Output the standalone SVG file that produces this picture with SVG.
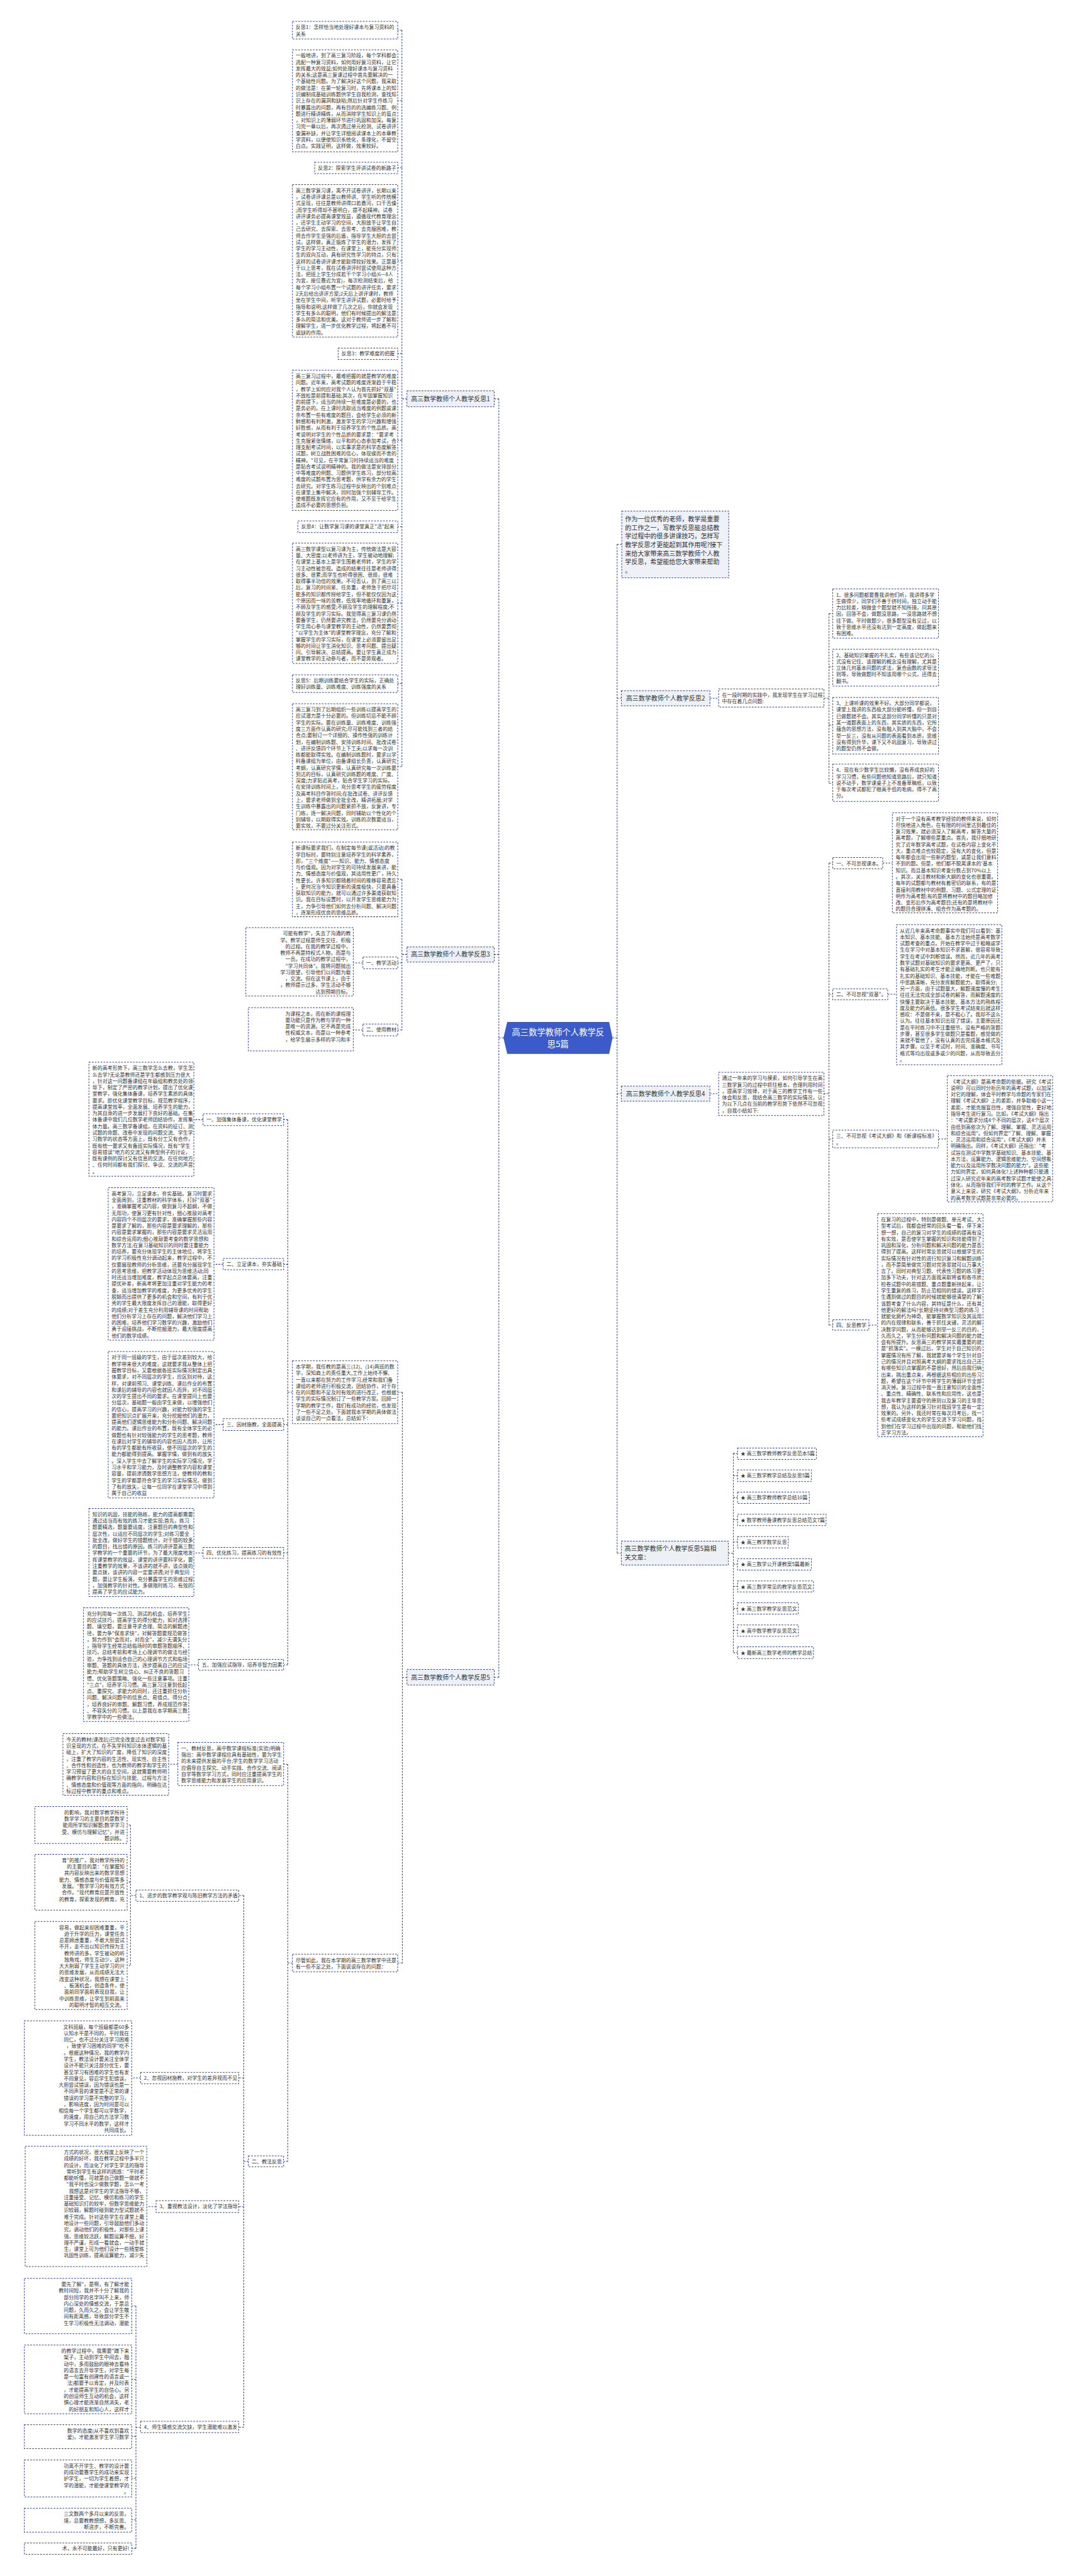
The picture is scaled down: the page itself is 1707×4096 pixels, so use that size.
<svg xmlns="http://www.w3.org/2000/svg" width="1707" height="4096" viewBox="0 0 1707 4096">
<style>
.c{fill:none;stroke:#2d3f8f;stroke-width:1.6;stroke-dasharray:4 3}
.b{fill:#ffffff;stroke:#2d3f8f;stroke-width:1.5;stroke-dasharray:4 3}
.l{fill:#edf1f6;stroke:#2d3f8f;stroke-width:1.5;stroke-dasharray:4 3}
.t{font-family:"Noto Sans CJK SC","Noto Sans",sans-serif;font-size:12px;fill:#333333}
.tr{font-family:"Noto Sans CJK SC","Noto Sans",sans-serif;font-size:12px;fill:#333333;text-anchor:end}
.tl{font-family:"Noto Sans CJK SC","Noto Sans",sans-serif;font-size:15px;fill:#333333}
.tc{font-family:"Noto Sans CJK SC","Noto Sans",sans-serif;font-size:15px;fill:#333333;text-anchor:middle}
.tm{font-family:"Noto Sans CJK SC","Noto Sans",sans-serif;font-size:20px;fill:#ffffff;text-anchor:middle}
</style>
<rect width="1707" height="4096" fill="#ffffff"/>
<g transform="scale(0.6668)">
<g id="connectors">
<path class="c" d="M1200 2475H1189M1189 951V4000M1189 951H1178M1189 2276H1178M1189 4000H1178"/>
<path class="c" d="M970 951H958M958 72V1828M958 72H948M958 240H948M958 400H948M958 622H948M958 843H948M958 1050H948M958 1256H948M958 1438H948M958 1630H948M958 1828H948"/>
<path class="c" d="M970 2276H958M958 2097V2456M958 2097H948M958 2296H948M958 2456H948M865 2296H842M865 2456H842"/>
<path class="c" d="M970 4000H959M959 3320V4681M959 3320H948M959 4681H948"/>
<path class="c" d="M697 3320H686M686 2670V3970M686 2670H676M686 3015H676M686 3397H676M686 3703H676M686 3970H676M484 2670H462M532 3015H510M532 3397H510M484 3703H462M473 3970H450"/>
<path class="c" d="M697 4681H686M686 4207V5154M686 4207H676M686 5154H676M424 4207H402"/>
<path class="c" d="M592 5154H581M581 4520V5788M581 4520H569M581 4955H569M581 5262H569M581 5788H569"/>
<path class="c" d="M324 4520H311M311 4352V4687M311 4352H303M311 4488H303M311 4687H303M335 4955H314M372 5262H350"/>
<path class="c" d="M335 5788H324M324 5499V6077M324 5499H314M324 5674H314M324 5810H314M324 5910H314M324 6009H314M324 6077H314"/>
<path class="c" d="M1460 2475H1471M1471 1298V3704M1471 1298H1482M1471 1665H1481M1471 2608H1481M1471 3704H1481"/>
<path class="c" d="M1692 1665H1713M1964 1665H1976M1976 1463V1868M1976 1463H1985M1976 1590H1985M1976 1729H1985M1976 1868H1985"/>
<path class="c" d="M1692 2608H1713M1964 2608H1976M1976 2058V3160M1976 2058H1985M1976 2371H1985M1976 2716H1985M1976 3160H1985M2104 2058H2127M2116 2371H2137M2237 2716H2258M2071 3160H2092"/>
<path class="c" d="M1736 3704H1748M1748 3466V3941M1748 3466H1758M1748 3519H1758M1748 3571H1758M1748 3624H1758M1748 3677H1758M1748 3730H1758M1748 3783H1758M1748 3836H1758M1748 3888H1758M1748 3941H1758"/>
</g>

<g id="center">
<polygon points="1200,2475 1209,2437 1452,2437 1460,2475 1452,2513 1209,2513" fill="#3b5bcb"/>
<text class="tm" x="1330" y="2469">高三数学教师个人教学反</text>
<text class="tm" x="1330" y="2497">思5篇</text>
</g>

<g id="intro">
<rect x="1482" y="1219" width="255" height="159" fill="#eef1f5" stroke="#2d3f8f" stroke-width="1.5" stroke-dasharray="4 3"/>
<text class="tl" x="1490" y="1243"><tspan x="1490" dy="0">作为一位优秀的老师，教学是重要</tspan><tspan x="1490" dy="20.5">的工作之一，写教学反思能总结教</tspan><tspan x="1490" dy="20.5">学过程中的很多讲课技巧，怎样写</tspan><tspan x="1490" dy="20.5">教学反思才更能起到其作用呢?接下</tspan><tspan x="1490" dy="20.5">来给大家带来高三数学教师个人教</tspan><tspan x="1490" dy="20.5">学反思，希望能给您大家带来帮助</tspan><tspan x="1490" dy="20.5">。</tspan></text>
</g>

<!-- LEFT BRANCH 1 -->
<g id="label-1"><rect class="l" x="970" y="932" width="208" height="38"/><text class="tc" x="1074" y="956.5">高三数学教师个人教学反思1</text></g>
<g id="r1-title1"><rect class="b" x="697" y="51" width="251" height="42"/><text class="t" x="705" y="69.5"><tspan x="705" dy="0">反思1：怎样恰当地处理好课本与复习资料的</tspan><tspan x="705" dy="15.4">关系</tspan></text></g>
<g id="r1-block1"><rect class="b" x="697" y="119" width="251" height="243"/><text class="t" x="705" y="137"><tspan x="705" dy="0">一般地讲，到了高三复习阶段，每个学科都会</tspan><tspan x="705" dy="15.4">选配一种复习资料，如何用好复习资料，让它</tspan><tspan x="705" dy="15.4">发挥最大的效益;如何处理好课本与复习资料</tspan><tspan x="705" dy="15.4">的关系;这是高三复课过程中首先要解决的一</tspan><tspan x="705" dy="15.4">个基础性问题。为了解决好这个问题，我采取</tspan><tspan x="705" dy="15.4">的做法是：在第一轮复习时，先将课本上的知</tspan><tspan x="705" dy="15.4">识编制成基础训练题供学生自我检测，查找知</tspan><tspan x="705" dy="15.4">识上存在的漏洞和缺陷;然后针对学生作练习</tspan><tspan x="705" dy="15.4">时暴露出的问题，再有目的的选编练习题、例</tspan><tspan x="705" dy="15.4">题进行精讲精练，从而消除学生知识上的盲点</tspan><tspan x="705" dy="15.4">，对知识上的薄弱环节进行巩固和加深。每复</tspan><tspan x="705" dy="15.4">习完一章以后，再次透过单元检测、试卷讲评</tspan><tspan x="705" dy="15.4">查漏补缺，并让学生详细阅读课本上的本章教</tspan><tspan x="705" dy="15.4">学资料，以便使知识系统化，条理化，不留空</tspan><tspan x="705" dy="15.4">白点。实践证明，这样做，效果较好。</tspan></text></g>
<g id="r1-title2"><rect class="b" x="750" y="387" width="198" height="27"/><text class="t" x="758" y="405">反思2：探索学生评讲试卷的新路子</text></g>
<g id="r1-block2"><rect class="b" x="697" y="440" width="251" height="364"/><text class="t" x="705" y="458.5"><tspan x="705" dy="0">高三数学复习课，离不开试卷讲评，长期以来</tspan><tspan x="705" dy="15.4">，试卷讲评课总是以教师讲、学生听的传统模</tspan><tspan x="705" dy="15.4">式呈现，往往是教师讲得口若悬河，口干舌燥</tspan><tspan x="705" dy="15.4">;而学生听得却不甚明白，提不起精神。试卷</tspan><tspan x="705" dy="15.4">讲评课务必提高课堂效益，遵循现代教育理念</tspan><tspan x="705" dy="15.4">，还学生主动学习的空间，大胆放手让学生自</tspan><tspan x="705" dy="15.4">己去研究、去探索、去思考、去克服困难，教</tspan><tspan x="705" dy="15.4">师去作学生坚强的后盾，指导学生大胆的去尝</tspan><tspan x="705" dy="15.4">试，这样做，真正锻炼了学生的潜力，发挥了</tspan><tspan x="705" dy="15.4">学生的学习主动性，在课堂上，能充分实现师</tspan><tspan x="705" dy="15.4">生的双向互动，具有研究性学习的特点，只有</tspan><tspan x="705" dy="15.4">这样的试卷讲评课才能取得较好效果。正是基</tspan><tspan x="705" dy="15.4">于以上思考，我在试卷讲评时尝试使用这种方</tspan><tspan x="705" dy="15.4">法，把班上学生分成若干个学习小组(6—8人</tspan><tspan x="705" dy="15.4">为宜，座位靠近为宜)，每次检测结束后，给</tspan><tspan x="705" dy="15.4">每个学习小组布置一个试题的讲评任务，要求</tspan><tspan x="705" dy="15.4">2天后给出讲评方案;2天后上讲评课时，教师</tspan><tspan x="705" dy="15.4">坐在学生中间，听学生讲评试题，必要时给予</tspan><tspan x="705" dy="15.4">指导和说明;这样做了几次之后，你就会发现</tspan><tspan x="705" dy="15.4">学生有多么的聪明，他们有时候提出的解法是</tspan><tspan x="705" dy="15.4">多么的简洁和优美。这对于教师进一步了解和</tspan><tspan x="705" dy="15.4">理解学生，进一步优化教学过程，将起着不可</tspan><tspan x="705" dy="15.4">或缺的作用。</tspan></text></g>
<g id="r1-title3"><rect class="b" x="806" y="830" width="142" height="27"/><text class="t" x="814" y="848">反思3：教学难度的把握</text></g>
<g id="r1-block3"><rect class="b" x="697" y="883" width="251" height="334"/><text class="t" x="705" y="901.5"><tspan x="705" dy="0">高三复习过程中，最难把握的就是教学的难度</tspan><tspan x="705" dy="15.4">问题。近年来，高考试题的难度逐渐趋于平稳</tspan><tspan x="705" dy="15.4">，教学上如何应对我个人认为首先抓好"双基"</tspan><tspan x="705" dy="15.4">不放松是前提和基础;其次，在牢固掌握知识</tspan><tspan x="705" dy="15.4">的前提下，适当的持续一些难度是必要的，也</tspan><tspan x="705" dy="15.4">是务必的。在上课时选取适当难度的例题或课</tspan><tspan x="705" dy="15.4">余布置一些有难度的题目，会给学生必须的新</tspan><tspan x="705" dy="15.4">鲜感和有利刺激，激发学生的学习兴趣和增强</tspan><tspan x="705" dy="15.4">好胜感，从而有利于培养学生的个性品质。高</tspan><tspan x="705" dy="15.4">考说明对学生的个性品质的要求是："要求考</tspan><tspan x="705" dy="15.4">生克服紧张情绪，以平和的心态参加考试，合</tspan><tspan x="705" dy="15.4">理支配考试时间，以实事求是的科学态度解答</tspan><tspan x="705" dy="15.4">试题，树立战胜困难的信心，体现锲而不舍的</tspan><tspan x="705" dy="15.4">精神。"可见，在平常复习时持续适当的难度</tspan><tspan x="705" dy="15.4">是贴合考试说明精神的。我的做法是安排部分</tspan><tspan x="705" dy="15.4">中等难度的例题、习题供学生练习，部分较高</tspan><tspan x="705" dy="15.4">难度的试题布置为思考题，供学有余力的学生</tspan><tspan x="705" dy="15.4">去研究。对学生练习过程中反映出的个别难点</tspan><tspan x="705" dy="15.4">在课堂上集中解决，同时加强个别辅导工作。</tspan><tspan x="705" dy="15.4">使难题既发挥它应有的作用，又不至于给学生</tspan><tspan x="705" dy="15.4">造成不必要的思想负担。</tspan></text></g>
<g id="r1-title4"><rect class="b" x="710" y="1242" width="238" height="28"/><text class="t" x="718" y="1260">反思4：让数学复习课的课堂真正"活"起来</text></g>
<g id="r1-block4"><rect class="b" x="697" y="1295" width="251" height="287"/><text class="t" x="705" y="1313.5"><tspan x="705" dy="0">高三数学课型以复习课为主，传统做法是大容</tspan><tspan x="705" dy="15.4">量、大密度;以老师讲为主，学生被动地理解;</tspan><tspan x="705" dy="15.4">在课堂上基本上是学生围着老师转，学生的学</tspan><tspan x="705" dy="15.4">习主动性被忽视。造成的结果往往是老师讲得</tspan><tspan x="705" dy="15.4">很多、很累;而学生也听得很困、很烦，很难</tspan><tspan x="705" dy="15.4">取得事半功倍的效果。不可否认，到了高三以</tspan><tspan x="705" dy="15.4">后，复习的时间紧、任务重，老师急于把尽可</tspan><tspan x="705" dy="15.4">能多的知识都传授给学生，但不能仅仅因为这</tspan><tspan x="705" dy="15.4">个原因而一味的苦教，低效率地循环和重复，</tspan><tspan x="705" dy="15.4">不顾及学生的感受;不顾及学生的理解程度;不</tspan><tspan x="705" dy="15.4">顾及学生的学习实际。我觉得高三复习课仍然</tspan><tspan x="705" dy="15.4">要备学生，仍然要讲究教法，仍然要充分调动</tspan><tspan x="705" dy="15.4">学生用心参与课堂教学的主动性，仍然要贯彻</tspan><tspan x="705" dy="15.4">"以学生为主体"的课堂教学理念，充分了解和</tspan><tspan x="705" dy="15.4">掌握学生的学习实际，在课堂上必须要留出足</tspan><tspan x="705" dy="15.4">够的时间让学生消化知识、思考问题、提出疑</tspan><tspan x="705" dy="15.4">问、引导解决、总结提高。要让学生真正成为</tspan><tspan x="705" dy="15.4">课堂教学的主动参与者，而不是旁观者。</tspan></text></g>
<g id="r1-title5"><rect class="b" x="697" y="1609" width="251" height="42"/><text class="t" x="705" y="1627.5"><tspan x="705" dy="0">反思5：后期训练要结合学生的实际，正确处</tspan><tspan x="705" dy="15.4">理好训练量、训练难度、训练强度的关系</tspan></text></g>
<g id="r1-block5"><rect class="b" x="697" y="1678" width="251" height="301"/><text class="t" x="705" y="1696.5"><tspan x="705" dy="0">高三复习到了后期组织一些训练以提高学生的</tspan><tspan x="705" dy="15.4">应试潜力是十分必要的。但训练切忌不能不顾</tspan><tspan x="705" dy="15.4">学生的实际。要在训练量、训练难度、训练强</tspan><tspan x="705" dy="15.4">度三方面作认真的研究;尽可能找到三者的结</tspan><tspan x="705" dy="15.4">合点;要制订一个详细的、操作性强的训练计</tspan><tspan x="705" dy="15.4">划，在编制训练题、安排训练时间、批改试卷</tspan><tspan x="705" dy="15.4">、讲评反馈四个环节上下工夫;以求每一次训</tspan><tspan x="705" dy="15.4">练都能取得实效。在编制训练题时，要求以学</tspan><tspan x="705" dy="15.4">科备课组为单位，由备课组长负责，认真研究</tspan><tspan x="705" dy="15.4">考纲，认真研究学情，认真研究每一次训练要</tspan><tspan x="705" dy="15.4">到达的目标，认真研究训练题的难度、广度、</tspan><tspan x="705" dy="15.4">深度;力求贴近高考，贴合学生学习的实际。</tspan><tspan x="705" dy="15.4">在安排训练时间上，充分思考学生的疲劳程度</tspan><tspan x="705" dy="15.4">及高考科目作答时间;在批改试卷、讲评反馈</tspan><tspan x="705" dy="15.4">上，要求老师做到全批全改，精讲拓展;对学</tspan><tspan x="705" dy="15.4">生训练中暴露出的问题紧抓不放，反复讲，专</tspan><tspan x="705" dy="15.4">门练，逐一解决问题，同时辅助以个性化的个</tspan><tspan x="705" dy="15.4">别辅导，以期取得实效。训练的次数要适当，</tspan><tspan x="705" dy="15.4">要实效，不要过分关注形式。</tspan></text></g>

<!-- LEFT BRANCH 3 -->
<g id="label-3"><rect class="l" x="970" y="2258" width="208" height="36"/><text class="tc" x="1074" y="2281.5">高三数学教师个人教学反思3</text></g>
<g id="r3-block0"><rect class="b" x="697" y="2008" width="251" height="178"/><text class="t" x="705" y="2026.5"><tspan x="705" dy="0">新课标要求我们，在制定每节课(或活动)的教</tspan><tspan x="705" dy="15.4">学目标时，要特别注意培养学生的科学素养，</tspan><tspan x="705" dy="15.4">即，"三个维度"——知识、能力、情感态度</tspan><tspan x="705" dy="15.4">与价值观。因为对学生的可持续发展来讲，能</tspan><tspan x="705" dy="15.4">力、情感态度与价值观，其适用性更广，持久</tspan><tspan x="705" dy="15.4">性更长。许多知识都随着时间的推移容易遗忘</tspan><tspan x="705" dy="15.4">，更何况当今知识更新的速度极快，只要具备</tspan><tspan x="705" dy="15.4">获取知识的能力，就可以通过许多渠道获取知</tspan><tspan x="705" dy="15.4">识。我在目标设置时，以开发学生思维能力为</tspan><tspan x="705" dy="15.4">主，力争引导他们如何去分析问题、解决问题</tspan><tspan x="705" dy="15.4">，逐渐形成优良的思维品质。</tspan></text></g>
<g id="r3-h1"><rect class="b" x="865" y="2282" width="83" height="28"/><text class="t" x="873" y="2300">一、教学活动</text></g>
<g id="r3-b1"><rect class="b" x="586" y="2212" width="256" height="163"/><text class="tr" x="836" y="2230.5"><tspan x="836" dy="0">可能有教学"，失去了沟通的教</tspan><tspan x="836" dy="15.4">学。教学过程是师生交往、积极</tspan><tspan x="836" dy="15.4">的过程。在我的教学过程中，</tspan><tspan x="836" dy="15.4">教师不再是特权式人物，而是与</tspan><tspan x="836" dy="15.4">一员。在成功的教学过程中，</tspan><tspan x="836" dy="15.4">"学习共同体"。我将问题抛出</tspan><tspan x="836" dy="15.4">学习欲望，引导他们以问题为载</tspan><tspan x="836" dy="15.4">，交流。但在这节课上，由于</tspan><tspan x="836" dy="15.4">，教师提示过多，学生活动不够</tspan><tspan x="836" dy="15.4">达到预期目标。</tspan></text></g>
<g id="r3-h2"><rect class="b" x="865" y="2442" width="83" height="28"/><text class="t" x="873" y="2460">二、使用教材</text></g>
<g id="r3-b2"><rect class="b" x="592" y="2403" width="250" height="103"/><text class="tr" x="836" y="2421.5"><tspan x="836" dy="0">为课程之本，而在新的课程理</tspan><tspan x="836" dy="15.4">要功能只是作为教与学的一种</tspan><tspan x="836" dy="15.4">是唯一的资源。它不再是完成</tspan><tspan x="836" dy="15.4">性权威文本，而是以一种参考</tspan><tspan x="836" dy="15.4">，给学生展示多样的学习和丰</tspan></text></g>

<!-- LEFT BRANCH 5 -->
<g id="label-5"><rect class="l" x="970" y="3981" width="208" height="37"/><text class="tc" x="1074" y="4005">高三数学教师个人教学反思5</text></g>
<g id="r5-intro"><rect class="b" x="697" y="3245" width="251" height="150"/><text class="t" x="705" y="3263.5"><tspan x="705" dy="0">本学期，我任教的是高三(12)、(14)两班的数</tspan><tspan x="705" dy="15.4">学，深知肩上的责任重大,工作上始终不懈,</tspan><tspan x="705" dy="15.4">一直以来都在努力的工作学习,经常和我们备</tspan><tspan x="705" dy="15.4">课组的老师进行积极交流，团结协作，对于存</tspan><tspan x="705" dy="15.4">在的问题和不足及时有效的进行改正，也根据</tspan><tspan x="705" dy="15.4">学生的实际情况制订了一些教学方案。回顾一</tspan><tspan x="705" dy="15.4">学期的教学工作，我们有成功的经验，也发现</tspan><tspan x="705" dy="15.4">了一些不足之处。下面就我本学期的具体做法</tspan><tspan x="705" dy="15.4">谈谈自己的一点看法，总结如下：</tspan></text></g>
<g id="r5-h1"><rect class="b" x="484" y="2656" width="192" height="28"/><text class="t" x="492" y="2674">一、加强集体备课，优化课堂教学</text></g>
<g id="r5-b1"><rect class="b" x="212" y="2533" width="250" height="272"/><text class="t" x="220" y="2551.5"><tspan x="220" dy="0">新的高考形势下，高三数学怎么去教，学生怎</tspan><tspan x="220" dy="15.4">么去学?无论是教师还是学生都感到压力很大</tspan><tspan x="220" dy="15.4">，针对这一问题备课组在年级组和教务处的领</tspan><tspan x="220" dy="15.4">导下，制定了严密的教学计划，提出了优化课</tspan><tspan x="220" dy="15.4">堂教学，强化集体备课，培养学生素质的具体</tspan><tspan x="220" dy="15.4">要求。即优化课堂教学目标，规范教学程序，</tspan><tspan x="220" dy="15.4">提高课堂效率，全面发展、培养学生的能力，</tspan><tspan x="220" dy="15.4">为其自身的进一步发展打下良好的基础。在集</tspan><tspan x="220" dy="15.4">体备课中我们几位数学老师团结协作，发挥集</tspan><tspan x="220" dy="15.4">体力量。高三数学备课组，在资料的征订、测</tspan><tspan x="220" dy="15.4">试题的命题、改卷中发现的问题交流、学生学</tspan><tspan x="220" dy="15.4">习数学的状态等方面上，既有分工又有合作，</tspan><tspan x="220" dy="15.4">既有统一要求又有备班实际情况，既有"学生</tspan><tspan x="220" dy="15.4">容易错误"地方的交流又有典型例子的讨论，</tspan><tspan x="220" dy="15.4">既有课例的探讨又有信息的交流。在任何地方</tspan><tspan x="220" dy="15.4">、任何时间都有我们探讨、争议、交流的声音</tspan><tspan x="220" dy="15.4">。</tspan></text></g>
<g id="r5-h2"><rect class="b" x="532" y="3001" width="144" height="27"/><text class="t" x="540" y="3019">二、立足课本，夯实基础</text></g>
<g id="r5-b2"><rect class="b" x="258" y="2832" width="252" height="364"/><text class="t" x="266" y="2850.5"><tspan x="266" dy="0">高考复习，立足课本，夯实基础。复习时要求</tspan><tspan x="266" dy="15.4">全面周到，注重教材的科学体系，打好"双基"</tspan><tspan x="266" dy="15.4">，准确掌握考试内容，做到复习不超纲，不做</tspan><tspan x="266" dy="15.4">无用功，使复习更有针对性，细心推敲对高考</tspan><tspan x="266" dy="15.4">内容四个不同层次的要求，准确掌握那些内容</tspan><tspan x="266" dy="15.4">是要求了解的，那些内容是要求理解的，那些</tspan><tspan x="266" dy="15.4">内容是要求掌握的，那些内容是要求灵活运用</tspan><tspan x="266" dy="15.4">和综合运用的;细心推敲要考查的数学思想和</tspan><tspan x="266" dy="15.4">数学方法;在复习基础知识的同时要注重能力</tspan><tspan x="266" dy="15.4">的培养，要充分体现学生的主体地位，将学生</tspan><tspan x="266" dy="15.4">的学习积极性充分调动起来，教学过程中，不</tspan><tspan x="266" dy="15.4">仅要展现教师的分析思维，还要充分展现学生</tspan><tspan x="266" dy="15.4">的思考思维，把教学活动体现为思维活动;同</tspan><tspan x="266" dy="15.4">时还适当增加难度，教学起点总体要高，注重</tspan><tspan x="266" dy="15.4">提优补差，新高考将更加注重对学生能力的考</tspan><tspan x="266" dy="15.4">查，适当增加教学的难度，为更多优秀的学生</tspan><tspan x="266" dy="15.4">脱颖而出提供了更多的机会和空间，有利于优</tspan><tspan x="266" dy="15.4">秀的学生最大限度发挥自己的潜能，取得更好</tspan><tspan x="266" dy="15.4">的成绩;对于差生充分利用辅导课的时间帮助</tspan><tspan x="266" dy="15.4">他们分析学习上存在的问题，解决他们学习上</tspan><tspan x="266" dy="15.4">的困难，培养他们学习数学的兴趣，激励他们</tspan><tspan x="266" dy="15.4">勇于迎接挑战，不断挖掘潜力，最大限度提高</tspan><tspan x="266" dy="15.4">他们的数学成绩。</tspan></text></g>
<g id="r5-h3"><rect class="b" x="532" y="3383" width="144" height="28"/><text class="t" x="540" y="3401">三、因材施教，全面提高</text></g>
<g id="r5-b3"><rect class="b" x="258" y="3223" width="252" height="349"/><text class="t" x="266" y="3241.5"><tspan x="266" dy="0">对于同一班级的学生，由于层次差别较大，给</tspan><tspan x="266" dy="15.4">教学带来很大的难度，这就要求我从整体上把</tspan><tspan x="266" dy="15.4">握教学目标，又要根据各班实际情况制定出具</tspan><tspan x="266" dy="15.4">体要求，对不同层次的学生，应区别对待，这</tspan><tspan x="266" dy="15.4">样，对课前预习、课堂训练、课后作业的布置</tspan><tspan x="266" dy="15.4">和课后的辅导的内容也就因人而异，对不同层</tspan><tspan x="266" dy="15.4">次的学生提出不同的要求。在课堂提问上也要</tspan><tspan x="266" dy="15.4">分层次，基础题一般由学生来做，以增强他们</tspan><tspan x="266" dy="15.4">的信心，提高学习的兴趣，对能力较强的学生</tspan><tspan x="266" dy="15.4">要把知识点扩展开来，充分挖掘他们的潜力，</tspan><tspan x="266" dy="15.4">提高他们逻辑思维能力和分析问题、解决问题</tspan><tspan x="266" dy="15.4">的能力。课后作业的布置，既有全体学生的必</tspan><tspan x="266" dy="15.4">做题也有针对较强能力的学生的思考题，教师</tspan><tspan x="266" dy="15.4">在课后对学生的辅导的内容也因人而异，让所</tspan><tspan x="266" dy="15.4">有的学生都能有所收获，使不同层次的学生的</tspan><tspan x="266" dy="15.4">能力都能得到提高。掌握学情，做到有的放矢</tspan><tspan x="266" dy="15.4">。深入学生中去了解学生的实际学习情况，学</tspan><tspan x="266" dy="15.4">习水平和学习能力，及时调整教学内容和课堂</tspan><tspan x="266" dy="15.4">容量，提前渗透数学思想方法，使教师的教和</tspan><tspan x="266" dy="15.4">学生的学都是符合学生的学习实际情况，做到</tspan><tspan x="266" dy="15.4">了有的放矢，让每一位同学在课堂学习中得到</tspan><tspan x="266" dy="15.4">属于自己的收益</tspan></text></g>
<g id="r5-h4"><rect class="b" x="484" y="3690" width="192" height="26"/><text class="t" x="492" y="3707.5">四、优化练习，提高练习的有效性</text></g>
<g id="r5-b4"><rect class="b" x="212" y="3597" width="250" height="210"/><text class="t" x="220" y="3615.5"><tspan x="220" dy="0">知识的巩固，技能的熟练，能力的提高都需要</tspan><tspan x="220" dy="15.4">通过适当而有效的练习才能实现;首先，练习</tspan><tspan x="220" dy="15.4">题要精选，题量要适度，注意题目的典型性和</tspan><tspan x="220" dy="15.4">层次性，以适应不同层次的学生;对练习要全</tspan><tspan x="220" dy="15.4">批全改，做好学生的错题统计，对于错的较多</tspan><tspan x="220" dy="15.4">的题目，找出错的原因。练习的讲评是高三数</tspan><tspan x="220" dy="15.4">学教学的一个重要的环节，为了最大限度地发</tspan><tspan x="220" dy="15.4">挥课堂教学的效益，课堂的讲评要科学化，要</tspan><tspan x="220" dy="15.4">注重教学的效果，不该讲的就不讲，该点拨的</tspan><tspan x="220" dy="15.4">要点拨，该讲的内容一定要讲透;对于典型问</tspan><tspan x="220" dy="15.4">题，要让学生板演，充分暴露学生的思维过程</tspan><tspan x="220" dy="15.4">，加强教学的针对性。多做限时练习，有效的</tspan><tspan x="220" dy="15.4">提高了学生的应试能力。</tspan></text></g>
<g id="r5-h5"><rect class="b" x="473" y="3957" width="203" height="26"/><text class="t" x="481" y="3974.5">五、加强应试指导，培养非智力因素</text></g>
<g id="r5-b5"><rect class="b" x="199" y="3834" width="251" height="271"/><text class="t" x="207" y="3852.5"><tspan x="207" dy="0">充分利用每一次练习、测试的机会，培养学生</tspan><tspan x="207" dy="15.4">的应试技巧，提高学生的得分能力，如对选择</tspan><tspan x="207" dy="15.4">题、填空题，要注意寻求合理、简洁的解题途</tspan><tspan x="207" dy="15.4">径，要力争"保准求快"，对解答题要规范做答</tspan><tspan x="207" dy="15.4">，努力作到"会而对，对而全"，减少无谓失分</tspan><tspan x="207" dy="15.4">，指导学生经常总结临场时的审题答题顺序、</tspan><tspan x="207" dy="15.4">技巧，总结考前和考场上心理调节的做法与经</tspan><tspan x="207" dy="15.4">验，力争找到适合自己的心理调节方式和临场</tspan><tspan x="207" dy="15.4">审题、答题的具体方法，逐步提高自己的应试</tspan><tspan x="207" dy="15.4">能力;帮助学生树立信心、纠正不良的答题习</tspan><tspan x="207" dy="15.4">惯、优化答题策略、强化一些注意事项。注重</tspan><tspan x="207" dy="15.4">"三点"，培养学习习惯。高三复习注意到低起</tspan><tspan x="207" dy="15.4">点、重探究、求能力的同时，还注重抓住分析</tspan><tspan x="207" dy="15.4">问题、解决问题中的信息点、易错点、得分点</tspan><tspan x="207" dy="15.4">，培养良好的审题、解题习惯，养成规范作答</tspan><tspan x="207" dy="15.4">、不容失分的习惯。以上是我在本学期高三数</tspan><tspan x="207" dy="15.4">学教学中的一些做法。</tspan></text></g>
<g id="r5-problems"><rect class="b" x="697" y="4660" width="251" height="42"/><text class="t" x="705" y="4678.5"><tspan x="705" dy="0">尽管如此，我在本学期的高三数学教学中还是</tspan><tspan x="705" dy="15.4">有一些不足之处，下面说说存在的问题：</tspan></text></g>
<g id="r5-p1"><rect class="b" x="424" y="4155" width="252" height="103"/><text class="t" x="432" y="4173.5"><tspan x="432" dy="0">一、教材反思，高中数学课程标准(实验)明确</tspan><tspan x="432" dy="15.4">指出：高中数学课程应具有基础性，要为学生</tspan><tspan x="432" dy="15.4">的未来提供发展的平台;学生的数学学习活动</tspan><tspan x="432" dy="15.4">应倡导自主探究、动手实践、合作交流、阅读</tspan><tspan x="432" dy="15.4">自学等数学学习方式，同时应注重提高学生的</tspan><tspan x="432" dy="15.4">数学思维能力和发展学生的应用意识。</tspan></text></g>
<g id="r5-p1b"><rect class="b" x="150" y="4134" width="252" height="147"/><text class="t" x="158" y="4152.5"><tspan x="158" dy="0">今天的教材(课改后)已完全改变过去对数学知</tspan><tspan x="158" dy="15.4">识呈现的方式，在不失学科知识本体逻辑的基</tspan><tspan x="158" dy="15.4">础上，扩大了知识的广度，降低了知识的深度</tspan><tspan x="158" dy="15.4">，注重了教学内容的生活性、现实性、自主性</tspan><tspan x="158" dy="15.4">、合作性和创造性，也为教师的教学和学生的</tspan><tspan x="158" dy="15.4">学习预留了更大的自主空间，这就需要教师明</tspan><tspan x="158" dy="15.4">确教学内容和目标在知识与技能、过程与方法</tspan><tspan x="158" dy="15.4">、情感态度和价值观等方面的指向，明确在达</tspan><tspan x="158" dy="15.4">标过程中教学的重点和难点。</tspan></text></g>
<g id="r5-p2"><rect class="b" x="592" y="5141" width="84" height="26"/><text class="t" x="600" y="5158.5">二、教法反思</text></g>
<g id="r5-i1"><rect class="b" x="324" y="4507" width="245" height="27"/><text class="t" x="332" y="4525">1、进步的数学教学观与陈旧教学方法的矛盾</text></g>
<g id="r5-i1a"><rect class="b" x="83" y="4308" width="220" height="88"/><text class="tr" x="297" y="4326.5"><tspan x="297" dy="0">的影响，我对数学教学所持</tspan><tspan x="297" dy="15.4">数学学习的主要目的是数学</tspan><tspan x="297" dy="15.4">能用所学知识解题;数学学习</tspan><tspan x="297" dy="15.4">受、模仿与理解记忆"，并进</tspan><tspan x="297" dy="15.4">题训练。</tspan></text></g>
<g id="r5-i1b"><rect class="b" x="83" y="4422" width="220" height="133"/><text class="tr" x="297" y="4440.5"><tspan x="297" dy="0">育"的推广，我对教学所持的</tspan><tspan x="297" dy="15.4">的主要目的是："在掌握知</tspan><tspan x="297" dy="15.4">其内容反映出来的数学思想</tspan><tspan x="297" dy="15.4">能力、情感态度与价值观等多</tspan><tspan x="297" dy="15.4">发展。"数学学习的有效方式</tspan><tspan x="297" dy="15.4">合作。"现代教育应是开放性</tspan><tspan x="297" dy="15.4">的教育，探索发现的教育，充</tspan></text></g>
<g id="r5-i1c"><rect class="b" x="83" y="4582" width="220" height="210"/><text class="tr" x="297" y="4600.5"><tspan x="297" dy="0">容易，做起来却困难重重，平</tspan><tspan x="297" dy="15.4">迫于升学的压力，课堂任务</tspan><tspan x="297" dy="15.4">总是顾虑重重，不敢大胆尝试</tspan><tspan x="297" dy="15.4">不开，走不出以知识传授为主</tspan><tspan x="297" dy="15.4">教师讲的多，学生被动的听</tspan><tspan x="297" dy="15.4">独角戏，师生互动少，这种</tspan><tspan x="297" dy="15.4">大大削弱了学生主动学习的兴</tspan><tspan x="297" dy="15.4">的思维发展，从而成绩无法大</tspan><tspan x="297" dy="15.4">改变这种状况，我想在课堂上</tspan><tspan x="297" dy="15.4">、板演机会，创造条件，使</tspan><tspan x="297" dy="15.4">面前同学面前表现自我，让</tspan><tspan x="297" dy="15.4">中训练思维，让学生到前面来</tspan><tspan x="297" dy="15.4">的聪明才智的相互交流。</tspan></text></g>
<g id="r5-i2"><rect class="b" x="335" y="4942" width="234" height="27"/><text class="t" x="343" y="4960">2、忽视因材施教，对学生的差异视而不见</text></g>
<g id="r5-i2a"><rect class="b" x="58" y="4819" width="256" height="273"/><text class="tr" x="308" y="4837.5"><tspan x="308" dy="0">文科班级，每个班级都是60多</tspan><tspan x="308" dy="15.4">认知水平是不同的，平时我在</tspan><tspan x="308" dy="15.4">同仁，也不过分关注学习困难</tspan><tspan x="308" dy="15.4">，致使学习困难的同学"吃不</tspan><tspan x="308" dy="15.4">。根据这种情况，我的教学内</tspan><tspan x="308" dy="15.4">学生，教法设计要关注全体学</tspan><tspan x="308" dy="15.4">设计不能只关注部分优生，要</tspan><tspan x="308" dy="15.4">甚至学习有困难的学生也有发</tspan><tspan x="308" dy="15.4">不同意见，容忍学生犯错误，</tspan><tspan x="308" dy="15.4">大胆尝试错误，因为错误也是一</tspan><tspan x="308" dy="15.4">不同声音的课堂是不正常的课</tspan><tspan x="308" dy="15.4">错误的学习是不完整的学习，</tspan><tspan x="308" dy="15.4">，影响进度，因为时间是可以</tspan><tspan x="308" dy="15.4">相信每一个学生都可以学数学，</tspan><tspan x="308" dy="15.4">的速度，用自己的方法学习数</tspan><tspan x="308" dy="15.4">学习不同水平的数学，这样才</tspan><tspan x="308" dy="15.4">共同成长。</tspan></text></g>
<g id="r5-i3"><rect class="b" x="372" y="5248" width="197" height="28"/><text class="t" x="380" y="5266">3、重视教法设计，淡化了学法指导</text></g>
<g id="r5-i3a"><rect class="b" x="60" y="5118" width="290" height="287"/><text class="tr" x="344" y="5136.5"><tspan x="344" dy="0">方式的状况，很大程度上反映了一个</tspan><tspan x="344" dy="15.4">成绩的好坏，我在教学过程中多半只</tspan><tspan x="344" dy="15.4">的设计，而淡化了对学生学法的指导</tspan><tspan x="344" dy="15.4">常听到学生有这样的困惑："平时老</tspan><tspan x="344" dy="15.4">都能听懂，可就是自己做题一做就不</tspan><tspan x="344" dy="15.4">"我平时也没少做数学题，怎么一考</tspan><tspan x="344" dy="15.4">我想这是对学生的学法指导不够，</tspan><tspan x="344" dy="15.4">注重接受、记忆、模仿和练习的学生</tspan><tspan x="344" dy="15.4">基础知识打的较牢，但数学思维能力</tspan><tspan x="344" dy="15.4">识较弱，解题时碰到能力型试题就不</tspan><tspan x="344" dy="15.4">难于完成。针对这些学生在课堂上最</tspan><tspan x="344" dy="15.4">地设计一些问题，引导鼓励他们多动</tspan><tspan x="344" dy="15.4">究，调动他们的积极性。对那些上课</tspan><tspan x="344" dy="15.4">强，思维较活跃，解题运算不细，好</tspan><tspan x="344" dy="15.4">理不严谨，形成一看就会，一动手就</tspan><tspan x="344" dy="15.4">生，课堂上可为他们设计一些随堂练</tspan><tspan x="344" dy="15.4">巩固性训练，提高运算能力，减少失</tspan></text></g>
<g id="r5-i4"><rect class="b" x="335" y="5774" width="234" height="27"/><text class="t" x="343" y="5792">4、师生情感交流欠缺，学生潜能难以激发</text></g>
<g id="r5-i4a"><rect class="b" x="58" y="5433" width="256" height="132"/><text class="tr" x="308" y="5451.5"><tspan x="308" dy="0">要先了解"，是啊，有了解才能</tspan><tspan x="308" dy="15.4">教时间短，我并不十分了解我的</tspan><tspan x="308" dy="15.4">部分同学的名字叫不上来，师</tspan><tspan x="308" dy="15.4">内心深处的情感交流，于是总</tspan><tspan x="308" dy="15.4">问题，久而久之，会让学生敬</tspan><tspan x="308" dy="15.4">间有距离感，导致部分学生不</tspan><tspan x="308" dy="15.4">生学习积极性无法调动，潜能</tspan></text></g>
<g id="r5-i4b"><rect class="b" x="58" y="5592" width="256" height="164"/><text class="tr" x="308" y="5610.5"><tspan x="308" dy="0">的教学过程中，我需要"蹲下来</tspan><tspan x="308" dy="15.4">架子，主动到学生中间去，融</tspan><tspan x="308" dy="15.4">动中，多用鼓励的眼神去看待</tspan><tspan x="308" dy="15.4">的语言去开导学生，对学生每</tspan><tspan x="308" dy="15.4">是一句富有创建性的语言或一</tspan><tspan x="308" dy="15.4">法)都要予以肯定，并及时表</tspan><tspan x="308" dy="15.4">，才能提高学生的自信心。另</tspan><tspan x="308" dy="15.4">的创设师生互动的机会，这样</tspan><tspan x="308" dy="15.4">惧心理才能逐渐自然消失，老</tspan><tspan x="308" dy="15.4">的好朋友和知心人，这样才</tspan></text></g>
<g id="r5-i4c"><rect class="b" x="58" y="5782" width="256" height="57"/><text class="tr" x="308" y="5800.5"><tspan x="308" dy="0">数学的态度(从不喜欢到喜欢</tspan><tspan x="308" dy="15.4">爱)，才能激发学生学习数学</tspan></text></g>
<g id="r5-i4d"><rect class="b" x="58" y="5866" width="256" height="88"/><text class="tr" x="308" y="5884.5"><tspan x="308" dy="0">功离不开学生、教学的设计要</tspan><tspan x="308" dy="15.4">的成功要靠学生的成功来实现</tspan><tspan x="308" dy="15.4">护学生，一切为学生着想，才</tspan><tspan x="308" dy="15.4">学的潜能，才能使课堂教学的</tspan><tspan x="308" dy="15.4">。</tspan></text></g>
<g id="r5-i4e"><rect class="b" x="58" y="5981" width="256" height="57"/><text class="tr" x="308" y="5999.5"><tspan x="308" dy="0">三文数两个多月以来的反思，</tspan><tspan x="308" dy="15.4">境，总要教教想想，多反思、</tspan><tspan x="308" dy="15.4">断进步，不断完善。</tspan></text></g>
<g id="r5-i4f"><rect class="b" x="58" y="6064" width="256" height="27"/><text class="tr" x="308" y="6082">术，永不可能最好，只有更好!</text></g>

<!-- RIGHT BRANCH 2 -->
<g id="label-2"><rect class="l" x="1481" y="1647" width="211" height="36"/><text class="tc" x="1586.5" y="1670.5">高三数学教师个人教学反思2</text></g>
<g id="r2-intro"><rect class="b" x="1713" y="1643" width="251" height="43"/><text class="t" x="1721" y="1661.5"><tspan x="1721" dy="0">在一段时期的实践中，我发现学生在学习过程</tspan><tspan x="1721" dy="15.4">中存在着几点问题:</tspan></text></g>
<g id="r2-b1"><rect class="b" x="1985" y="1404" width="252" height="118"/><text class="t" x="1993" y="1422.5"><tspan x="1993" dy="0">1、很多问题都要靠我讲他们听，我讲得多学</tspan><tspan x="1993" dy="15.4">生做得少，同学们不善于挤时间，独立动手能</tspan><tspan x="1993" dy="15.4">力比较差，稍微变个题型就不知所措，问其原</tspan><tspan x="1993" dy="15.4">因，回答不会，做题没思路，一没思路就不想</tspan><tspan x="1993" dy="15.4">往下做。平时做题少，很多题型没有见过，以</tspan><tspan x="1993" dy="15.4">致于思维水平还没有达到一定高度，做起题来</tspan><tspan x="1993" dy="15.4">有困难。</tspan></text></g>
<g id="r2-b2"><rect class="b" x="1985" y="1548" width="252" height="88"/><text class="t" x="1993" y="1566.5"><tspan x="1993" dy="0">2、基础知识掌握的不扎实，有些该记忆的公</tspan><tspan x="1993" dy="15.4">式没有记住、该理解的概念没有理解，尤其是</tspan><tspan x="1993" dy="15.4">立体几何基本问题的求法，复合函数的求导法</tspan><tspan x="1993" dy="15.4">则等，导致做题时不知该用哪个公式，还得去</tspan><tspan x="1993" dy="15.4">翻书。</tspan></text></g>
<g id="r2-b3"><rect class="b" x="1985" y="1663" width="252" height="135"/><text class="t" x="1993" y="1681.5"><tspan x="1993" dy="0">3、上课听课的效果不好。大部分同学都说，</tspan><tspan x="1993" dy="15.4">课堂上我讲的东西极大部分能听懂，但一到自</tspan><tspan x="1993" dy="15.4">已做题就不会。其实这部分同学听懂的只是对</tspan><tspan x="1993" dy="15.4">某一道题表面上的东西，其实质的东西，它所</tspan><tspan x="1993" dy="15.4">蕴含的思想方法，没有融入到其大脑中，不会</tspan><tspan x="1993" dy="15.4">举一反三，没有从问题的表面看到本质，思维</tspan><tspan x="1993" dy="15.4">没有得到升华，课下又不巩固复习，导致讲过</tspan><tspan x="1993" dy="15.4">的题型仍然不会做。</tspan></text></g>
<g id="r2-b4"><rect class="b" x="1985" y="1822" width="252" height="89"/><text class="t" x="1993" y="1840.5"><tspan x="1993" dy="0">4、现在有少数学生比较懒，没有养成良好的</tspan><tspan x="1993" dy="15.4">学习习惯，有些问题他知道思路后，就只知道</tspan><tspan x="1993" dy="15.4">说不动手，数学课桌子上不准备草稿纸，以致</tspan><tspan x="1993" dy="15.4">于每次考试都犯了眼高手低的毛病，得不了高</tspan><tspan x="1993" dy="15.4">分。</tspan></text></g>

<!-- RIGHT BRANCH 4 -->
<g id="label-4"><rect class="l" x="1481" y="2590" width="211" height="36"/><text class="tc" x="1586.5" y="2613.5">高三数学教师个人教学反思4</text></g>
<g id="r4-intro"><rect class="b" x="1713" y="2557" width="251" height="103"/><text class="t" x="1721" y="2575.5"><tspan x="1721" dy="0">通过一年来的学习与摸索，如何引导学生在高</tspan><tspan x="1721" dy="15.4">三数学复习的过程中抓住根本，合理利用时间</tspan><tspan x="1721" dy="15.4">，提高学习效律，对于高三的教学工作有一些</tspan><tspan x="1721" dy="15.4">体会和反思，我结合高三数学的实际情况，认</tspan><tspan x="1721" dy="15.4">为以下几点在当前的教学形势下依然不可忽视</tspan><tspan x="1721" dy="15.4">，自我小结如下:</tspan></text></g>
<g id="r4-h1"><rect class="b" x="1985" y="2045" width="119" height="27"/><text class="t" x="1993" y="2063">一、不可忽视课本。</text></g>
<g id="r4-b1"><rect class="b" x="2127" y="1938" width="251" height="239"/><text class="t" x="2135" y="1956.5"><tspan x="2135" dy="0">对于一个没有高考教学经验的教师来说，如何</tspan><tspan x="2135" dy="15.4">尽快地进入角色，在有限的时间里达到最佳的</tspan><tspan x="2135" dy="15.4">复习效果，就必须深入了解高考，解答大量的</tspan><tspan x="2135" dy="15.4">高考题，了解哪些是重点。首先，我仔细地研</tspan><tspan x="2135" dy="15.4">究了近年数学高考试题，在试卷内容上变化不</tspan><tspan x="2135" dy="15.4">大，重点难点也较稳定，没有大的变化，但是</tspan><tspan x="2135" dy="15.4">每年都会出现一些新的题型，或是让我们意料</tspan><tspan x="2135" dy="15.4">不到的题。但是，他们都不脱离课本的'基本</tspan><tspan x="2135" dy="15.4">知识。而且基本知识考查分数占到70%以上</tspan><tspan x="2135" dy="15.4">。其次，关注教材和新大纲的变化也很重要。</tspan><tspan x="2135" dy="15.4">每年的试题都与教材有着密切的联系，有的是</tspan><tspan x="2135" dy="15.4">直接利用教材中的例题、习题、公式定理的证</tspan><tspan x="2135" dy="15.4">明作为高考题;有的是将教材中的题目略加修</tspan><tspan x="2135" dy="15.4">改、变形后作为高考题目;还有的是将教材中</tspan><tspan x="2135" dy="15.4">的题目合理拼凑、组合作为高考题的。</tspan></text></g>
<g id="r4-h2"><rect class="b" x="1985" y="2358" width="131" height="26"/><text class="t" x="1993" y="2375.5">二、不可忽视"双基"。</text></g>
<g id="r4-b2"><rect class="b" x="2137" y="2205" width="251" height="334"/><text class="t" x="2145" y="2223.5"><tspan x="2145" dy="0">从近几年来高考命题事实中我们可以看到：基</tspan><tspan x="2145" dy="15.4">本知识、基本技能、基本方法始终是高考数学</tspan><tspan x="2145" dy="15.4">试题考查的重点。开始在教学中过于粗略或学</tspan><tspan x="2145" dy="15.4">生在学习中对基本知识不求甚解，很容易导致</tspan><tspan x="2145" dy="15.4">学生在考试中判断错误。然而，近几年的高考</tspan><tspan x="2145" dy="15.4">数学试题对基础知识的要求更高、更严了，只</tspan><tspan x="2145" dy="15.4">有基础扎实的考生才能正确地判断。也只能有</tspan><tspan x="2145" dy="15.4">扎实的基础知识、基本技能，才能在一些难题</tspan><tspan x="2145" dy="15.4">中思路清晰，充分发挥解题能力，取得高分;</tspan><tspan x="2145" dy="15.4">另一方面，由于试题量大，解题速度慢的考生</tspan><tspan x="2145" dy="15.4">往往无法完成全部试卷的解答，而解题速度的</tspan><tspan x="2145" dy="15.4">快慢主要取决于基本技能、基本方法的熟练程</tspan><tspan x="2145" dy="15.4">度及能力的高低。很多学生考试结束后就这样</tspan><tspan x="2145" dy="15.4">感叹：不是做不来，是不粗心了。我却不这么</tspan><tspan x="2145" dy="15.4">认为。往往基本知识出现了错误，主要原因还</tspan><tspan x="2145" dy="15.4">是在平时练习中不注重细节，没有严格的答题</tspan><tspan x="2145" dy="15.4">步骤，甚至很多学生做题只是看题，感觉做的</tspan><tspan x="2145" dy="15.4">来就不管他了，没有认真的去完成基本格式及</tspan><tspan x="2145" dy="15.4">其步骤。以至于考试时，时间、准确度、书写</tspan><tspan x="2145" dy="15.4">格式等均出现或多或少的问题，从而导致丢分</tspan><tspan x="2145" dy="15.4">。</tspan></text></g>
<g id="r4-h3"><rect class="b" x="1985" y="2695" width="252" height="42"/><text class="t" x="1993" y="2713.5"><tspan x="1993" dy="0">三、不可忽视《考试大纲》和《新课程标准》</tspan><tspan x="1993" dy="15.4">。</tspan></text></g>
<g id="r4-b3"><rect class="b" x="2258" y="2565" width="251" height="301"/><text class="t" x="2266" y="2583.5"><tspan x="2266" dy="0">《考试大纲》是高考命题的依据。研究《考试</tspan><tspan x="2266" dy="15.4">说明》可以同时分析历年的高考试题，以加深</tspan><tspan x="2266" dy="15.4">对它的理解，体会平时教学与命题的专家们在</tspan><tspan x="2266" dy="15.4">理解《考试大纲》上的差距，并争取缩小这一</tspan><tspan x="2266" dy="15.4">差距，才能克服盲目性，增强自觉性，更好地</tspan><tspan x="2266" dy="15.4">指导考生进行复习。比如，《考试大纲》指出</tspan><tspan x="2266" dy="15.4">："考试要求分成4个不同的层次，这4个层次</tspan><tspan x="2266" dy="15.4">由低到高依次为了解、理解、掌握、灵活运用</tspan><tspan x="2266" dy="15.4">和综合运用"。但如何界定"了解、理解、掌握</tspan><tspan x="2266" dy="15.4">、灵活运用和综合运用"，《考试大纲》并未</tspan><tspan x="2266" dy="15.4">明确指出。同样，《考试大纲》还指出："考</tspan><tspan x="2266" dy="15.4">试旨在测试中学数学基础知识、基本技能、基</tspan><tspan x="2266" dy="15.4">本方法，运算能力、逻辑思维能力、空间想象</tspan><tspan x="2266" dy="15.4">能力以及运用所学数决问题的能力"。这些能</tspan><tspan x="2266" dy="15.4">力如何界定，如何具体化?上述种种都只能通</tspan><tspan x="2266" dy="15.4">过深入研究近年来的高考数学试题才能使之具</tspan><tspan x="2266" dy="15.4">体化，从而指导我们平时的教学工作。从这个</tspan><tspan x="2266" dy="15.4">意义上来说，研究《考试大纲》，分析近年来</tspan><tspan x="2266" dy="15.4">的高考数学试题是非常必要的。</tspan></text></g>
<g id="r4-h4"><rect class="b" x="1985" y="3147" width="86" height="25"/><text class="t" x="1993" y="3164">四、反思教学</text></g>
<g id="r4-b4"><rect class="b" x="2092" y="2894" width="251" height="532"/><text class="t" x="2100" y="2912.5"><tspan x="2100" dy="0">在复习的过程中，特别是做题、单元考试、大</tspan><tspan x="2100" dy="15.4">型考试后，我都会经常的回头看一看，停下来</tspan><tspan x="2100" dy="15.4">想一想，自己的复习对学生的成绩的提高有没</tspan><tspan x="2100" dy="15.4">有实效，是否使学生掌握的知识和技能得到了</tspan><tspan x="2100" dy="15.4">巩固和深化，分析问题和解决问题的能力是否</tspan><tspan x="2100" dy="15.4">得到了提高。这样时常反思就可以根据学生的</tspan><tspan x="2100" dy="15.4">实际情况有针对性的进行知识复习和解题训练</tspan><tspan x="2100" dy="15.4">，而不是简单做完习题对完答案就可以万事大</tspan><tspan x="2100" dy="15.4">吉了。同时对典型习题、代表性习题的练习更</tspan><tspan x="2100" dy="15.4">加多下功夫，针对这方面我采取将省和各市质</tspan><tspan x="2100" dy="15.4">检卷试题中的易错题、重点题重新拼起来，让</tspan><tspan x="2100" dy="15.4">学生重复的练习，防止范相同的错误。这样学</tspan><tspan x="2100" dy="15.4">生遇到做过的题目的时候就能够很清楚的了解</tspan><tspan x="2100" dy="15.4">该题考查了什么内容，其特征是什么，还有其</tspan><tspan x="2100" dy="15.4">他更好的解法吗?长期坚持对典型习题的练习</tspan><tspan x="2100" dy="15.4">就能化腐朽为神奇、能掌握数学知识及其运用</tspan><tspan x="2100" dy="15.4">的内在规律和联系，善于抓住关键，灵活的解</tspan><tspan x="2100" dy="15.4">决数学问题，从而能够达到举一反三的目的，</tspan><tspan x="2100" dy="15.4">久而久之，学生分析问题和解决问题的能力就</tspan><tspan x="2100" dy="15.4">会有所提升。反思高三的教学其实最重要的就</tspan><tspan x="2100" dy="15.4">是"抓落实"。一模过后，学生对于自己知识的</tspan><tspan x="2100" dy="15.4">掌握情况有所了解，我就要求每个学生针对自</tspan><tspan x="2100" dy="15.4">己的情况并且对照高考大纲的要求找出自己还</tspan><tspan x="2100" dy="15.4">有哪些知识点掌握的不是很好，然后由我归纳</tspan><tspan x="2100" dy="15.4">出来，挑出重点来，再根据这些相应的出些习</tspan><tspan x="2100" dy="15.4">题，希望在这个环节中将学生的薄弱环节全部</tspan><tspan x="2100" dy="15.4">消灭掉。复习过程中我一直注意知识的全面性</tspan><tspan x="2100" dy="15.4">、重点性、精确性、联系性和应用性，这也是</tspan><tspan x="2100" dy="15.4">我去年教学主要遵守的原则以及复习的主导思</tspan><tspan x="2100" dy="15.4">想，我认为这样的复习针对我班学生是有一定</tspan><tspan x="2100" dy="15.4">效果的。另外，我还时常在每次月考后，找一</tspan><tspan x="2100" dy="15.4">些考试成绩变化大的学生交流下学习问题，找</tspan><tspan x="2100" dy="15.4">到他们在学习过程中出现的问题，帮助他们找</tspan><tspan x="2100" dy="15.4">正学习方法。</tspan></text></g>

<!-- RELATED -->
<g id="label-related"><rect class="l" x="1481" y="3675" width="255" height="57"/><text class="tl" x="1489" y="3699"><tspan x="1489" dy="0">高三数学教师个人教学反思5篇相</tspan><tspan x="1489" dy="20">关文章：</tspan></text></g>
<g id="rel-1"><rect class="b" x="1758" y="3453" width="188" height="27"/><text class="t" x="1765" y="3471">★ 高三数学教师教学反思范本5篇</text></g>
<g id="rel-2"><rect class="b" x="1758" y="3505" width="176" height="28"/><text class="t" x="1765" y="3523.5">★ 高三数学教学总结及反思5篇</text></g>
<g id="rel-3"><rect class="b" x="1758" y="3558" width="171" height="27"/><text class="t" x="1765" y="3576">★ 高三数学教师教学总结10篇</text></g>
<g id="rel-4"><rect class="b" x="1758" y="3611" width="211" height="27"/><text class="t" x="1765" y="3629">★ 数学教师备课教学反思总结范文7篇</text></g>
<g id="rel-5"><rect class="b" x="1758" y="3664" width="121" height="27"/><text class="t" x="1765" y="3682">★ 高三教学数学反思</text></g>
<g id="rel-6"><rect class="b" x="1758" y="3717" width="176" height="27"/><text class="t" x="1765" y="3735">★ 高三数学公开课教案5篇最新</text></g>
<g id="rel-7"><rect class="b" x="1758" y="3770" width="181" height="26"/><text class="t" x="1765" y="3787.5">★ 高三数学常见的教学反思范文</text></g>
<g id="rel-8"><rect class="b" x="1758" y="3822" width="145" height="27"/><text class="t" x="1765" y="3840">★ 高三数学教学反思范文</text></g>
<g id="rel-9"><rect class="b" x="1758" y="3875" width="145" height="27"/><text class="t" x="1765" y="3893">★ 高中数学教学反思范文</text></g>
<g id="rel-10"><rect class="b" x="1758" y="3927" width="181" height="28"/><text class="t" x="1765" y="3945.5">★ 最新高三数学老师的教学总结</text></g>
</g>
</svg>
